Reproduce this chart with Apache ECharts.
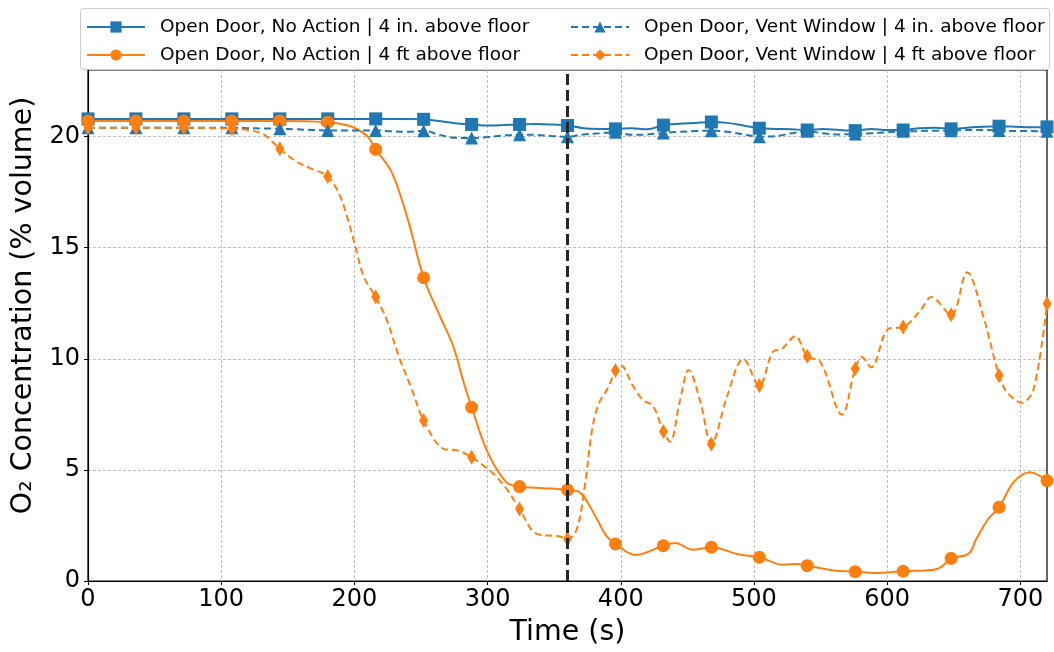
<!DOCTYPE html>
<html>
<head>
<meta charset="utf-8">
<title>O2 Concentration</title>
<script src="https://cdn.jsdelivr.net/npm/echarts@6.0.0/dist/echarts.min.js"></script>
<style>
  html, body { margin: 0; padding: 0; background: #fff; }
  #chart { width: 1054px; height: 652px; }
</style>
</head>
<body>
<div id="chart"></div>
<script>
// time (s), 12 s step, used by both 4 in. series
var time4in = [0, 12, 24, 36, 48, 60, 72, 84, 96, 108, 120, 132, 144, 156, 168, 180, 192, 204, 216, 228, 240,
  252, 264, 276, 288, 300, 312, 324, 336, 348, 360, 372, 384, 396, 408, 420, 432, 444, 456, 468, 480,
  492, 504, 516, 528, 540, 552, 564, 576, 588, 600, 612, 624, 636, 648, 660, 672, 684, 696, 708, 720]
var noAction4in = [20.8, 20.8, 20.8, 20.8, 20.8, 20.8, 20.8, 20.8, 20.8, 20.8, 20.8, 20.8, 20.8, 20.8, 20.8, 20.8, 20.8, 20.8, 20.8, 20.8, 20.8,
  20.78, 20.7, 20.6, 20.55, 20.5, 20.52, 20.55, 20.57, 20.55, 20.5,
  20.38, 20.35, 20.35, 20.38, 20.33, 20.52, 20.58, 20.62, 20.66, 20.62,
  20.5, 20.38, 20.35, 20.33, 20.3, 20.35, 20.3, 20.27, 20.35, 20.3,
  20.3, 20.38, 20.4, 20.35, 20.4, 20.45, 20.47, 20.45, 20.42, 20.44]
var vent4in = [20.4, 20.4, 20.4, 20.4, 20.4, 20.4, 20.4, 20.4, 20.4, 20.4,
  20.38, 20.37, 20.36, 20.33, 20.3, 20.28, 20.28, 20.28, 20.28, 20.24,
  20.22, 20.27, 20.08, 19.95, 19.94, 19.98, 20.05, 20.09, 20.08, 20.03,
  20.0, 20.1, 20.15, 20.2, 20.08, 20.1, 20.17, 20.22, 20.25, 20.27,
  20.22, 20.1, 20.0, 20.02, 20.15, 20.24, 20.15, 20.1, 20.12, 20.15,
  20.2, 20.24, 20.25, 20.27, 20.27, 20.3, 20.3, 20.28, 20.25, 20.25,
  20.24]

var timeNoAction4ft = [0, 36, 72, 108, 144, 180, 192, 200, 210, 216, 228, 240, 252, 264, 274, 282, 288, 300,
  314, 324, 342, 360, 369, 382, 389, 396, 411, 432, 441, 454, 468, 489, 504, 522, 532, 540, 560, 576,
  591, 612, 635, 641, 648, 661, 667, 676, 684, 695, 707, 720]
var noAction4ft = [20.7, 20.7, 20.7, 20.7, 20.7, 20.65, 20.55, 20.4, 20.0, 19.43, 18.4, 16.3, 13.65,
  11.95, 10.6, 8.95, 7.82, 5.8, 4.45, 4.25, 4.18, 4.1, 4.0, 2.8, 2.04, 1.67, 1.17, 1.59,
  1.71, 1.41, 1.52, 1.19, 1.07, 0.73, 0.77, 0.69, 0.47, 0.42, 0.36, 0.44, 0.51, 0.65, 1.02,
  1.22, 1.9, 2.8, 3.32, 4.45, 4.9, 4.52]

var timeVent4ft = [0, 36, 72, 108, 120, 132, 144, 156, 168, 180, 189, 195, 201, 207, 216, 224, 234, 243, 252, 267,
  278, 288, 300, 307, 316, 324, 337, 354, 360, 367, 373, 379, 384, 390, 396, 400, 409, 417, 424, 432,
  437, 444, 451, 460, 468, 480, 492, 504, 514, 521, 531, 540, 550, 566, 576, 581, 588, 601, 612, 625,
  633, 648, 660, 672, 684, 690, 701, 710, 720]
var vent4ft = [20.4, 20.4, 20.4, 20.36, 20.3, 20.1, 19.45, 18.9, 18.55, 18.21, 17.36, 16.3, 15.0, 13.7, 12.78,
  11.8, 10.0, 8.65, 7.22, 5.95, 5.87, 5.57, 5.05, 4.67, 4.0, 3.24, 2.12, 2.01, 1.89, 2.34,
  4.29, 7.0, 8.05, 8.65, 9.47, 9.7, 8.8, 8.12, 7.9, 6.73, 6.27, 8.0, 9.5, 8.0, 6.17,
  8.35, 10.0, 8.8, 10.3, 10.45, 11.02, 10.12, 9.85, 7.48, 9.55, 10.08, 9.62, 11.35, 11.43, 12.18,
  12.78, 11.98, 13.9, 11.95, 9.25, 8.5, 8.02, 8.65, 12.48]

var seriesNames = [
  'Open Door, No Action | 4 in. above floor',
  'Open Door, No Action | 4 ft above floor',
  'Open Door, Vent Window | 4 in. above floor',
  'Open Door, Vent Window | 4 ft above floor'
]
var xTicks = [0, 100, 200, 300, 400, 500, 600, 700]
var yTicks = [0, 5, 10, 15, 20]
var doorTime = 360
var markerStep = 36

var blue = '#1f77b4'
var orange = '#ff7f0e'
var font = 'DejaVu Sans'

// markers only every 36 s, the rest of the points just shape the curve
function toData(times, values, symbol, size) {
  var out = []
  for (var i = 0; i < times.length; i++) {
    var item = { value: [times[i], values[i]] }
    if (times[i] % markerStep !== 0) item.symbol = 'none'
    else { item.symbol = symbol; item.symbolSize = size }
    out.push(item)
  }
  return out
}

function makeSeries(name, times, values, color, dashed, symbol, size) {
  return {
    name: name,
    type: 'line',
    smooth: 0.35,
    showSymbol: true,
    showAllSymbol: true,
    symbol: symbol,
    symbolSize: size,
    itemStyle: { color: color },
    lineStyle: { color: color, width: 2, type: dashed ? [7, 4] : 'solid' },
    emphasis: { disabled: true },
    data: toData(times, values, symbol, size)
  }
}

var series = [
  makeSeries(seriesNames[0], time4in, noAction4in, blue, false, 'rect', 13),
  makeSeries(seriesNames[1], timeNoAction4ft, noAction4ft, orange, false, 'circle', 13),
  makeSeries(seriesNames[2], time4in, vent4in, blue, true, 'triangle', 13),
  makeSeries(seriesNames[3], timeVent4ft, vent4ft, orange, true, 'diamond', [9, 15])
]
series[0].markLine = {
  silent: true,
  symbol: 'none',
  label: { show: false },
  lineStyle: { color: '#262626', width: 3, type: [11, 5] },
  data: [{ xAxis: doorTime }]
}

var legendText = { fontSize: 18.5, fontFamily: font, color: '#000', lineHeight: 21, padding: [0, 0, 0, 10] }

var option = {
  animation: false,
  textStyle: { fontFamily: font },
  grid: { left: 88, right: 7, top: 70, bottom: 70, show: true, borderColor: '#000', borderWidth: 1.2 },
  graphic: [{
    type: 'rect',
    shape: { x: 80.5, y: 8.5, width: 969, height: 61, r: 3 },
    style: { fill: '#fff', stroke: '#cccccc', lineWidth: 1 }
  }],
  legend: [
    { data: [seriesNames[0], seriesNames[1]], orient: 'vertical', left: 81, top: 11.5,
      itemWidth: 58, itemHeight: 14, itemGap: 7, textStyle: legendText },
    { data: [seriesNames[2], seriesNames[3]], orient: 'vertical', left: 565, top: 11.5,
      itemWidth: 58, itemHeight: 14, itemGap: 7, textStyle: legendText }
  ],
  xAxis: {
    type: 'value',
    min: 0,
    max: 720,
    interval: 100,
    name: 'Time (s)',
    nameLocation: 'middle',
    nameGap: 37,
    nameTextStyle: { fontSize: 28.5, fontFamily: font, color: '#000' },
    axisLine: { show: true, lineStyle: { color: '#000', width: 1.2 } },
    axisTick: { show: true, length: 4, lineStyle: { color: '#000' }, customValues: xTicks },
    axisLabel: { fontSize: 24, color: '#000', margin: 7, customValues: xTicks },
    splitLine: { show: true, lineStyle: { color: '#b0b0b0', width: 0.8, type: [3, 2] } }
  },
  yAxis: {
    type: 'value',
    min: 0,
    max: 23,
    interval: 5,
    name: 'O₂ Concentration (% volume)',
    nameLocation: 'middle',
    nameGap: 47,
    nameTextStyle: { fontSize: 28.5, fontFamily: font, color: '#000', padding: [0, 0, 0, 40] },
    axisLine: { show: true, lineStyle: { color: '#000', width: 1.2 } },
    axisTick: { show: true, length: 4, lineStyle: { color: '#000' }, customValues: yTicks },
    axisLabel: { fontSize: 24, color: '#000', margin: 8, customValues: yTicks },
    splitLine: { show: true, lineStyle: { color: '#b0b0b0', width: 0.8, type: [3, 2] } }
  },
  series: series
}

var myChart = echarts.init(document.getElementById('chart'))
myChart.setOption(option)
</script>
</body>
</html>
